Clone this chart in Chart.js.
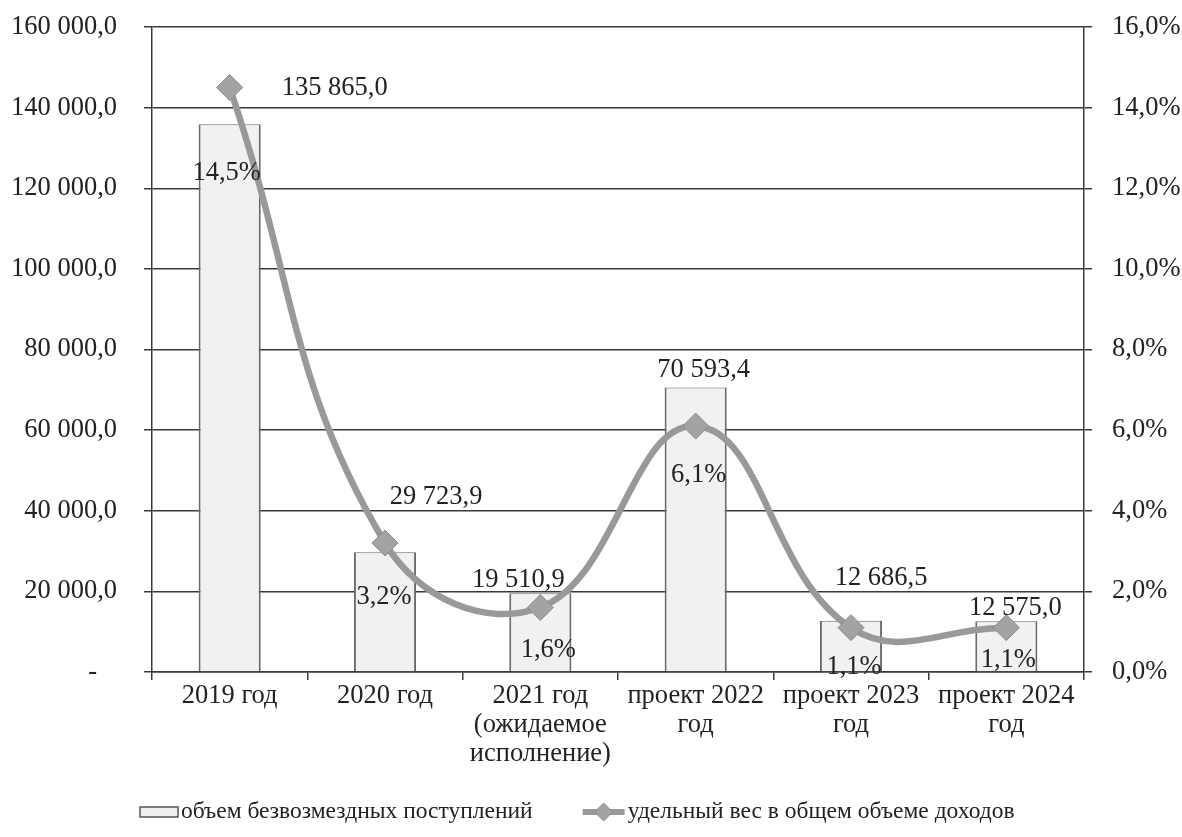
<!DOCTYPE html>
<html lang="ru">
<head>
<meta charset="utf-8">
<title>Безвозмездные поступления</title>
<script src="https://cdn.jsdelivr.net/npm/chart.js@4.4.1/dist/chart.umd.min.js"></script>
<style>
  html, body { margin: 0; padding: 0; background: #fff; }
  #wrap { width: 1182px; height: 837px; position: relative; }
</style>
</head>
<body>
<div id="wrap"><canvas id="chart"></canvas></div>
<script>
'use strict';

// ── Data ──
const CATEGORIES = [
  ['2019 год'],
  ['2020 год'],
  ['2021 год', '(ожидаемое', 'исполнение)'],
  ['проект 2022', 'год'],
  ['проект 2023', 'год'],
  ['проект 2024', 'год'],
];
const VOLUME = [135865.0, 29723.9, 19510.9, 70593.4, 12686.5, 12575.0];
const SHARE  = [14.5, 3.2, 1.6, 6.1, 1.1, 1.1];

const VOLUME_TICKS = { min: 0, max: 160000, step: 20000 };
const SHARE_TICKS  = { min: 0, max: 16, step: 2 };

const LEGEND_LABELS = ['объем безвозмездных поступлений', 'удельный вес в общем объеме доходов'];

// label nudges (px) so the labels sit where they are in the original
const VOL_LABEL_SHIFT   = [[105, -36], [51, -55], [-22, -13], [8, -17], [30, -43], [9, -13]];
const SHARE_LABEL_SHIFT = [[-3, 86], [-1, 54], [8, 43], [3, 49], [3, 39], [2, 32]];

const FONT_FAMILY = '"Liberation Serif", "Times New Roman", serif';
const TEXT_COLOR  = '#222';
const GRID_COLOR  = '#3a3a3a';

function fmtVolume(v) {
  if (v === 0) return '-   ';
  const [int, dec] = v.toFixed(1).split('.');
  return int.replace(/\B(?=(\d{3})+(?!\d))/g, ' ') + ',' + dec;
}
function fmtShare(v) {
  return v.toFixed(1).replace('.', ',') + '%';
}

const valueLabels = {
  id: 'valueLabels',
  afterDatasetsDraw(chart) {
    const ctx = chart.ctx;
    ctx.save();
    ctx.font = '26.5px ' + FONT_FAMILY;
    ctx.fillStyle = TEXT_COLOR;
    ctx.textAlign = 'center';
    ctx.textBaseline = 'middle';
    chart.getDatasetMeta(1).data.forEach((bar, i) => {
      const [dx, dy] = VOL_LABEL_SHIFT[i];
      ctx.fillText(fmtVolume(VOLUME[i]), bar.x + dx, bar.y + dy);
    });
    chart.getDatasetMeta(0).data.forEach((pt, i) => {
      const [dx, dy] = SHARE_LABEL_SHIFT[i];
      ctx.fillText(fmtShare(SHARE[i]), pt.x + dx, pt.y + dy);
    });
    ctx.restore();
  },
};

// ── Legend (drawn by hand to keep the original spacing) ──
const customLegend = {
  id: 'customLegend',
  afterDraw(chart) {
    const ctx = chart.ctx;
    const y = 812;
    ctx.save();
    ctx.font = '23.5px ' + FONT_FAMILY;
    ctx.textBaseline = 'middle';
    ctx.textAlign = 'left';

    const w0 = ctx.measureText(LEGEND_LABELS[0]).width;
    let x = 140;

    // bar swatch
    ctx.fillStyle = '#efefef';
    ctx.fillRect(x, y - 5, 38, 10);
    ctx.strokeStyle = '#555';
    ctx.lineWidth = 1.5;
    ctx.strokeRect(x, y - 5, 38, 10);
    ctx.fillStyle = TEXT_COLOR;
    ctx.fillText(LEGEND_LABELS[0], x + 41, y);
    x += 41 + w0 + 50;

    // line swatch
    ctx.strokeStyle = '#999';
    ctx.lineWidth = 6;
    ctx.beginPath();
    ctx.moveTo(x, y);
    ctx.lineTo(x + 42, y);
    ctx.stroke();
    ctx.fillStyle = '#a3a3a3';
    ctx.strokeStyle = '#8a8a8a';
    ctx.lineWidth = 1;
    ctx.beginPath();
    ctx.moveTo(x + 21, y - 9);
    ctx.lineTo(x + 30, y);
    ctx.lineTo(x + 21, y + 9);
    ctx.lineTo(x + 12, y);
    ctx.closePath();
    ctx.fill();
    ctx.stroke();
    ctx.fillStyle = TEXT_COLOR;
    ctx.fillText(LEGEND_LABELS[1], x + 45, y);
    ctx.restore();
  },
};

const tickFont = { family: FONT_FAMILY, size: 26.5 };

// keep the big tick padding from pushing the plot area down
function fixVertical(width) {
  return s => {
    s.width = width;
    s.paddingTop = 14;
    s.paddingBottom = 14;
  };
}

new Chart(document.getElementById('chart'), {
  data: {
    labels: CATEGORIES,
    datasets: [
      {
        type: 'line',
        label: LEGEND_LABELS[1],
        data: SHARE,
        yAxisID: 'yShare',
        order: 0,
        borderColor: '#999999',
        borderWidth: 6.5,
        tension: 0.42,
        pointStyle: 'rectRot',
        pointRadius: 13,
        pointHoverRadius: 13,
        pointBackgroundColor: '#a3a3a3',
        pointBorderColor: '#8a8a8a',
        pointBorderWidth: 1,
      },
      {
        type: 'bar',
        label: LEGEND_LABELS[0],
        data: VOLUME,
        yAxisID: 'yVol',
        order: 1,
        backgroundColor: '#f1f1f1',
        borderColor: '#6a6a6a',
        borderWidth: { top: 1, left: 2, right: 2, bottom: 0 },
        borderSkipped: 'bottom',
        barPercentage: 0.4,
        categoryPercentage: 1,
      },
    ],
  },
  options: {
    responsive: true,
    maintainAspectRatio: false,
    animation: false,
    layout: { padding: { top: 27, bottom: 55, left: 0, right: 0 } },
    plugins: {
      legend: { display: false },
      tooltip: { enabled: false },
    },
    scales: {
      x: {
        offset: true,
        afterFit: s => { s.height = 110; },
        grid: {
          offset: true,
          drawOnChartArea: false,
          color: GRID_COLOR,
          lineWidth: 1.5,
          tickLength: 8,
        },
        border: { color: GRID_COLOR, width: 1.5 },
        ticks: { font: { ...tickFont, lineHeight: 1.08 }, color: TEXT_COLOR, padding: 2, maxRotation: 0, autoSkip: false },
      },
      yVol: {
        position: 'left',
        min: VOLUME_TICKS.min,
        max: VOLUME_TICKS.max,
        afterFit: fixVertical(152),
        grid: { color: GRID_COLOR, lineWidth: 1.5, tickLength: 8 },
        border: { color: GRID_COLOR, width: 1.5 },
        ticks: {
          stepSize: VOLUME_TICKS.step,
          font: tickFont,
          color: TEXT_COLOR,
          padding: 27,
          callback: v => fmtVolume(v),
        },
      },
      yShare: {
        position: 'right',
        min: SHARE_TICKS.min,
        max: SHARE_TICKS.max,
        afterFit: fixVertical(98),
        grid: { drawOnChartArea: false, color: GRID_COLOR, lineWidth: 1.5, tickLength: 8 },
        border: { color: GRID_COLOR, width: 1.5 },
        ticks: {
          stepSize: SHARE_TICKS.step,
          font: tickFont,
          color: TEXT_COLOR,
          padding: 20,
          callback: v => fmtShare(v),
        },
      },
    },
  },
  plugins: [valueLabels, customLegend],
});
</script>
</body>
</html>
